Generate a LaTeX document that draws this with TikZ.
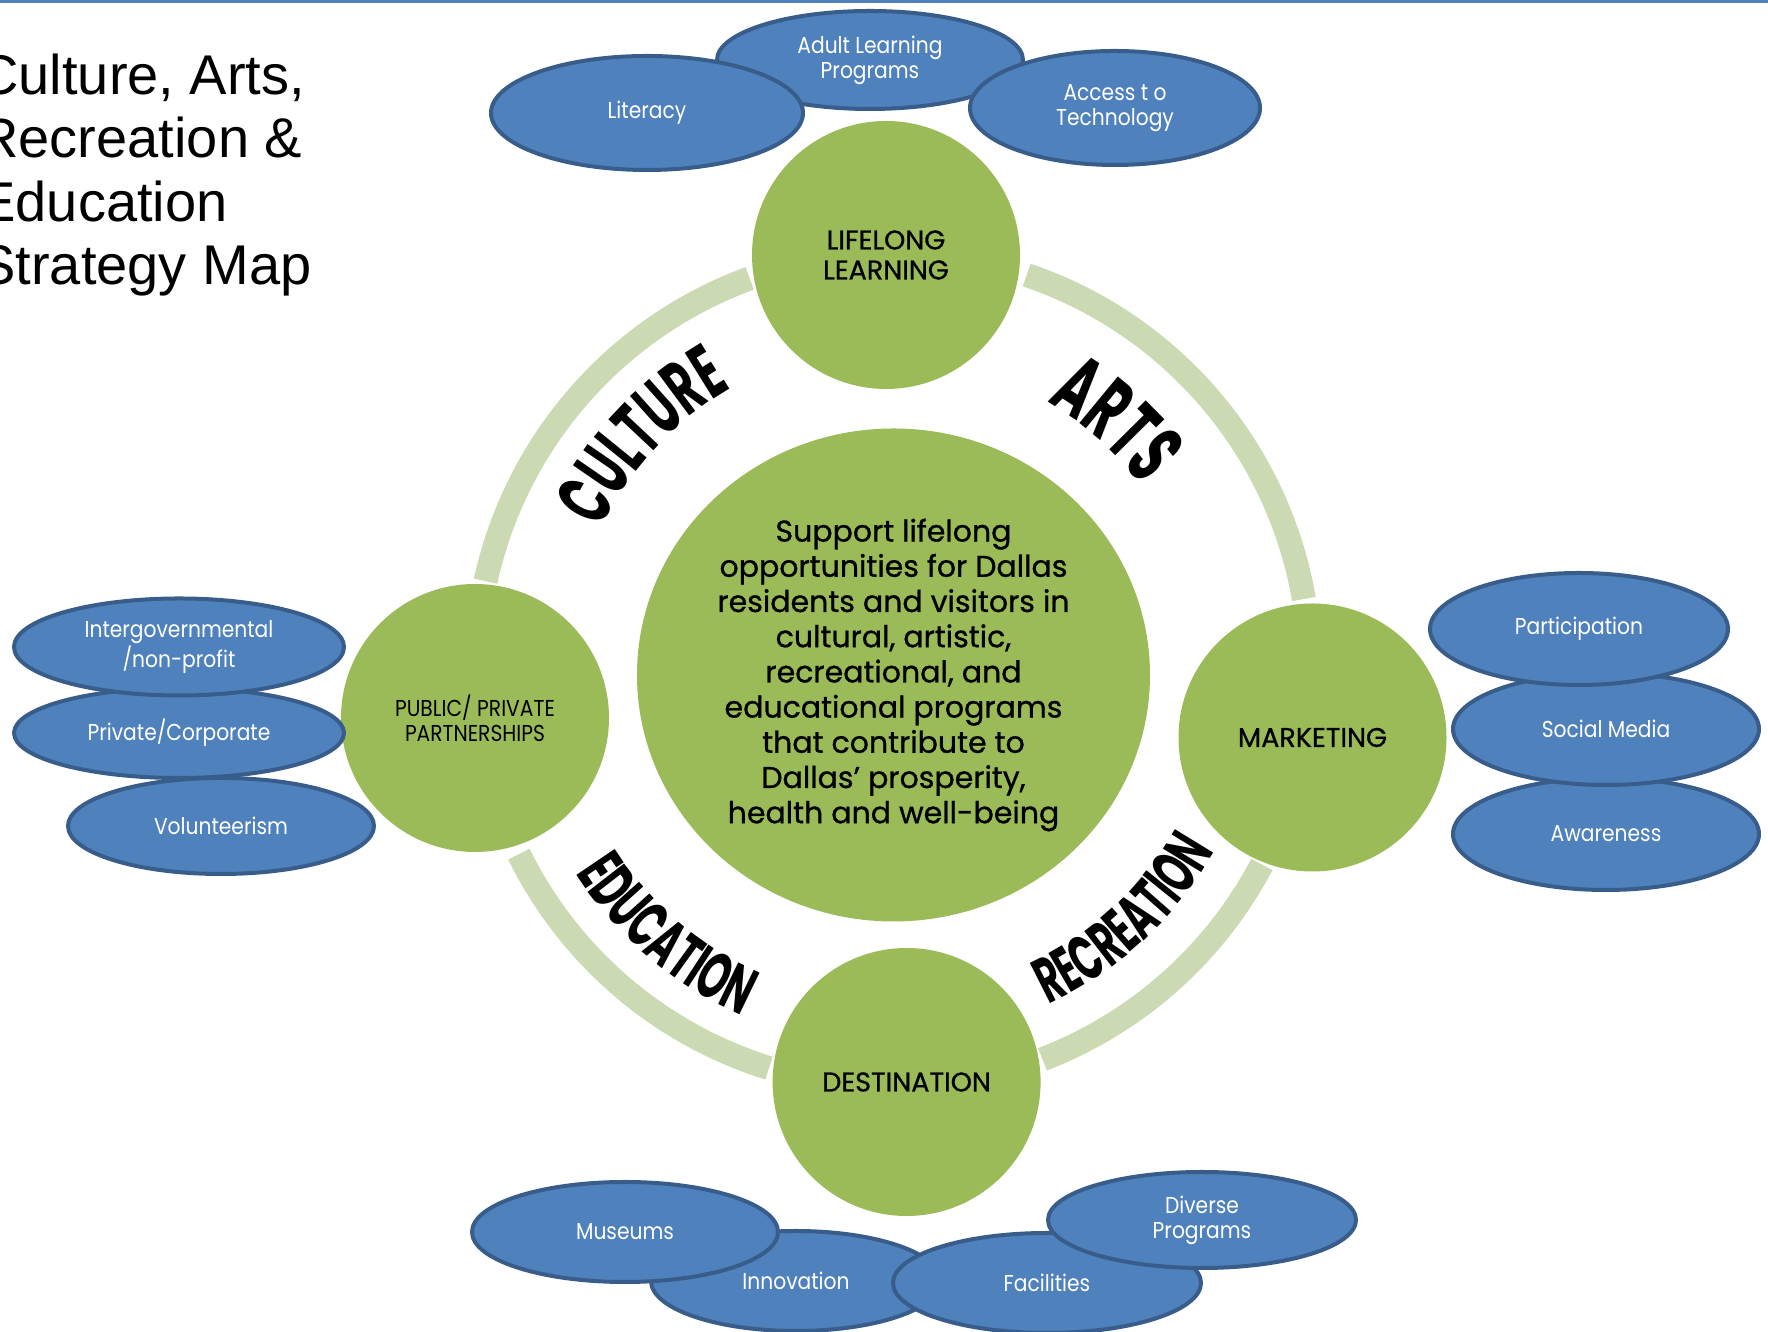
\documentclass[tikz,border=0pt]{standalone}
\usepackage{fontspec}
\setmainfont[FakeBold=0.9]{Poppins}
\newfontfamily\titlefont{Liberation Sans}
\newfontfamily\ovalfont[FakeStretch=0.88]{Poppins}
\newfontfamily\ringfont[FakeStretch=0.57]{Poppins}
\usepackage{tikz}
\usetikzlibrary{shapes.geometric,decorations.text}

\definecolor{topicgreen}{HTML}{9BBB59}
\definecolor{ringgreen}{HTML}{CCDAB4}
\definecolor{ovalblue}{HTML}{4F81BD}
\definecolor{ovalline}{HTML}{385D8A}

\begin{document}
\begin{tikzpicture}[x=0.5pt, y=0.5pt,
    topic/.style = {circle, fill=topicgreen, minimum size=134pt, inner sep=0pt, align=center, font=\fontsize{13.5}{15}\selectfont},
    oval/.style = {ellipse, fill=ovalblue, draw=ovalline, line width=2pt, text=white, inner sep=0pt, align=center, font=\ovalfont\fontsize{11.5}{12.4}\selectfont},
    ring/.style = {draw=ringgreen, line width=12pt},
    ringword/.style = {decorate, decoration={text along path, text align=center, text={#1}}}]
    \useasboundingbox (0,0) rectangle (1768,1332);
    \fill[ovalblue] (0,1329) rectangle (1768,1332);
    % Title
    \node[anchor=base west, align=left, inner sep=0pt, font=\titlefont\fontsize{28}{31.75}\selectfont] (title) at (-22,1047)
        {Culture, Arts,\\Recreation \&\\Education\\Strategy Map};
    % Ring
    \coordinate (hub) at (893,662);
    \draw[ring] ([shift={(167.7:417)}]hub) arc[start angle=167.7, end angle=110.1, radius=417];
    \draw[ring] ([shift={(71.3:417)}]hub) arc[start angle=71.3, end angle=9.8, radius=417];
    \draw[ring] ([shift={(-27.8:417)}]hub) arc[start angle=-27.8, end angle=-69, radius=417];
    \draw[ring] ([shift={(206.2:417)}]hub) arc[start angle=206.2, end angle=252.7, radius=417];
    \path[ringword={|\ringfont\bfseries\fontsize{38.5}{39}\selectfont|CULTURE}]
        ([shift={(167:325)}]hub) arc[start angle=167, end angle=107, radius=325];
    \path[ringword={|\ringfont\bfseries\fontsize{43}{44}\selectfont|ARTS}]
        ([shift={(78.3:309)}]hub) arc[start angle=78.3, end angle=18.3, radius=309];
    \path[ringword={|\ringfont\bfseries\fontsize{33}{34}\selectfont|EDUCATION}]
        ([shift={(199.5:377)}]hub) arc[start angle=199.5, end angle=259.5, radius=377];
    \path[ringword={|\ringfont\bfseries\fontsize{32}{33}\selectfont|RECREATION}]
        ([shift={(-77.2:369)}]hub) arc[start angle=-77.2, end angle=-17.2, radius=369];
    % Circles
    \node[ellipse, fill=topicgreen, minimum width=256.5pt, minimum height=246.5pt, inner sep=0pt, align=center,
        font=\fontsize{15}{17.6}\selectfont] (main) at (893.5,657)
        {Support lifelong\\opportunities for Dallas\\residents and visitors in\\cultural, artistic,\\recreational, and\\educational programs\\that contribute to\\Dallas’ prosperity,\\health and well-being};
    \node[topic] (lifelong) at (886,1077) {LIFELONG\\LEARNING};
    \node[topic, font=\ovalfont\fontsize{11.5}{12.5}\selectfont] (publicpriv) at (475,614) {PUBLIC/ PRIVATE\\PARTNERSHIPS};
    \node[topic] (marketing) at (1312.5,594.5) {MARKETING};
    \node[topic] (destination) at (906.6,250) {DESTINATION};
    % Ovals
    \node[oval, minimum width=153pt, minimum height=49pt] (adult) at (870,1272) {Adult Learning\\Programs};
    \node[oval, minimum width=156pt, minimum height=57pt] (literacy) at (647,1219) {Literacy};
    \node[oval, minimum width=145pt, minimum height=57pt] (access) at (1115,1224) {Access t o\\Technology};
    \node[oval, minimum width=153pt, minimum height=48pt] (volunteer) at (221,506) {Volunteerism};
    \node[oval, minimum width=165pt, minimum height=45pt] (corporate) at (179,599) {Private/Corporate};
    \node[oval, minimum width=165pt, minimum height=48.5pt] (intergov) at (179,685) {Intergovernmental\\/non-profit};
    \node[oval, minimum width=153pt, minimum height=56pt] (awareness) at (1606,498) {Awareness};
    \node[oval, minimum width=153pt, minimum height=56pt] (social) at (1606,603) {Social Media};
    \node[oval, minimum width=149pt, minimum height=56pt] (participation) at (1579,703) {Participation};
    \node[oval, minimum width=145pt, minimum height=50pt] (innovation) at (796,51) {Innovation};
    \node[oval, minimum width=153pt, minimum height=50pt] (museums) at (625,100) {Museums};
    \node[oval, minimum width=154pt, minimum height=50pt] (facilities) at (1047,49) {Facilities};
    \node[oval, minimum width=154pt, minimum height=48pt] (diverse) at (1202,112) {Diverse\\Programs};
\end{tikzpicture}
\end{document}
